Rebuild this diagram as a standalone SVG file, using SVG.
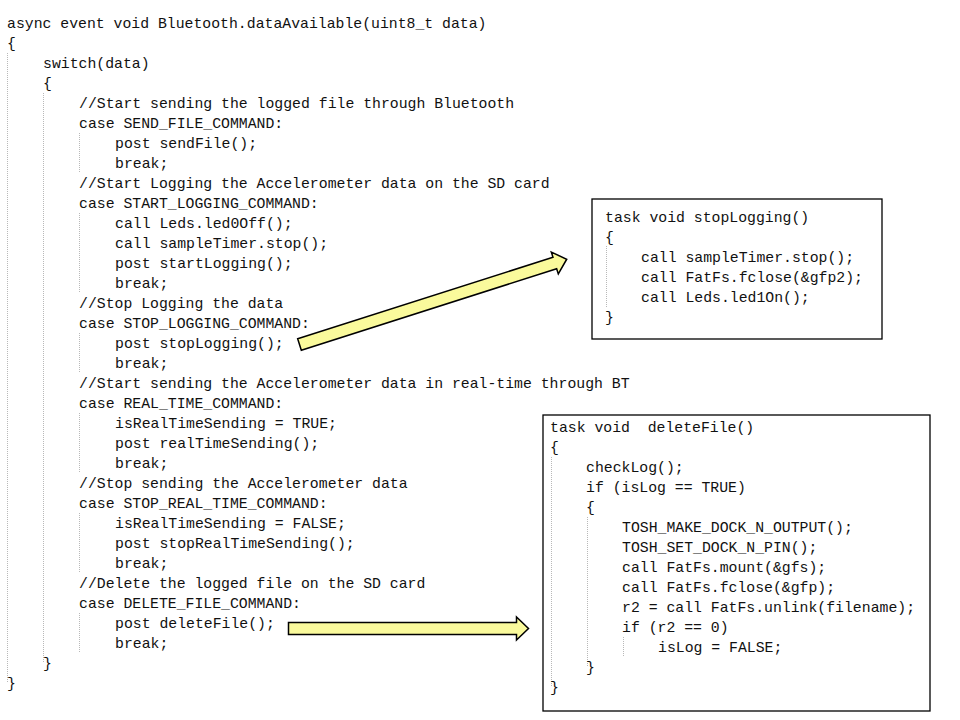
<svg xmlns="http://www.w3.org/2000/svg" width="960" height="720" viewBox="0 0 960 720">
<style>
text{font-family:"Liberation Mono","Courier New",monospace;font-size:14.8px;fill:#111;white-space:pre}
.g{stroke:#b8b8b8;stroke-width:1;stroke-dasharray:1 1;fill:none}
.box{fill:#fff;stroke:#000;stroke-width:1.3}
.arrow{fill:#fafa9c;stroke:#000;stroke-width:1.5;stroke-linejoin:miter}
</style>
<rect width="960" height="720" fill="#fff"/>
<g id="main-code">
<g class="guides">
<line class="g" x1="7.5" y1="53" x2="7.5" y2="683"/>
<line class="g" x1="43.5" y1="93" x2="43.5" y2="663"/>
<line class="g" x1="79.5" y1="133" x2="79.5" y2="173"/>
<line class="g" x1="79.5" y1="213" x2="79.5" y2="293"/>
<line class="g" x1="79.5" y1="333" x2="79.5" y2="373"/>
<line class="g" x1="79.5" y1="413" x2="79.5" y2="473"/>
<line class="g" x1="79.5" y1="513" x2="79.5" y2="573"/>
<line class="g" x1="79.5" y1="613" x2="79.5" y2="653"/>
</g>
<text x="7" y="28">async event void Bluetooth.dataAvailable(uint8_t data)</text>
<text x="7" y="48">{</text>
<text x="43" y="68">switch(data)</text>
<text x="43" y="88">{</text>
<text x="79" y="108">//Start sending the logged file through Bluetooth</text>
<text x="79" y="128">case SEND_FILE_COMMAND:</text>
<text x="115" y="148">post sendFile();</text>
<text x="115" y="168">break;</text>
<text x="79" y="188">//Start Logging the Accelerometer data on the SD card</text>
<text x="79" y="208">case START_LOGGING_COMMAND:</text>
<text x="115" y="228">call Leds.led0Off();</text>
<text x="115" y="248">call sampleTimer.stop();</text>
<text x="115" y="268">post startLogging();</text>
<text x="115" y="288">break;</text>
<text x="79" y="308">//Stop Logging the data</text>
<text x="79" y="328">case STOP_LOGGING_COMMAND:</text>
<text x="115" y="348">post stopLogging();</text>
<text x="115" y="368">break;</text>
<text x="79" y="388">//Start sending the Accelerometer data in real-time through BT</text>
<text x="79" y="408">case REAL_TIME_COMMAND:</text>
<text x="115" y="428">isRealTimeSending = TRUE;</text>
<text x="115" y="448">post realTimeSending();</text>
<text x="115" y="468">break;</text>
<text x="79" y="488">//Stop sending the Accelerometer data</text>
<text x="79" y="508">case STOP_REAL_TIME_COMMAND:</text>
<text x="115" y="528">isRealTimeSending = FALSE;</text>
<text x="115" y="548">post stopRealTimeSending();</text>
<text x="115" y="568">break;</text>
<text x="79" y="588">//Delete the logged file on the SD card</text>
<text x="79" y="608">case DELETE_FILE_COMMAND:</text>
<text x="115" y="628">post deleteFile();</text>
<text x="115" y="648">break;</text>
<text x="43" y="668">}</text>
<text x="7" y="688">}</text>
</g>
<g id="stopLogging-box">
<rect class="box" x="592" y="199" width="290" height="140"/>
<line class="g" x1="606.5" y1="246" x2="606.5" y2="307"/>
<text x="605" y="222">task void stopLogging()</text>
<text x="605" y="242">{</text>
<text x="641" y="262">call sampleTimer.stop();</text>
<text x="641" y="282">call FatFs.fclose(&amp;gfp2);</text>
<text x="641" y="302">call Leds.led1On();</text>
<text x="605" y="322">}</text>
</g>
<g id="deleteFile-box">
<rect class="box" x="543" y="415" width="387" height="296"/>
<line class="g" x1="551.5" y1="457" x2="551.5" y2="687"/>
<line class="g" x1="587.5" y1="517" x2="587.5" y2="667"/>
<line class="g" x1="623.5" y1="637" x2="623.5" y2="657"/>
<text x="550" y="432">task void  deleteFile()</text>
<text x="550" y="452">{</text>
<text x="586" y="472">checkLog();</text>
<text x="586" y="492">if (isLog == TRUE)</text>
<text x="586" y="512">{</text>
<text x="622" y="532">TOSH_MAKE_DOCK_N_OUTPUT();</text>
<text x="622" y="552">TOSH_SET_DOCK_N_PIN();</text>
<text x="622" y="572">call FatFs.mount(&amp;gfs);</text>
<text x="622" y="592">call FatFs.fclose(&amp;gfp);</text>
<text x="622" y="612">r2 = call FatFs.unlink(filename);</text>
<text x="622" y="632">if (r2 == 0)</text>
<text x="658" y="652">isLog = FALSE;</text>
<text x="586" y="672">}</text>
<text x="550" y="692">}</text>
</g>
<g id="connectors">
<polygon id="arrow-stopLogging" class="arrow" transform="translate(299.5,344.5) rotate(-17.7)" points="0,-6 268,-6 268,-11.5 280.5,0 268,11.5 268,6 0,6"/>
<polygon id="arrow-deleteFile" class="arrow" points="288.5,622.5 516.5,622.5 516.5,617 528.5,628.5 516.5,640 516.5,634.5 288.5,634.5"/>
</g>
</svg>
